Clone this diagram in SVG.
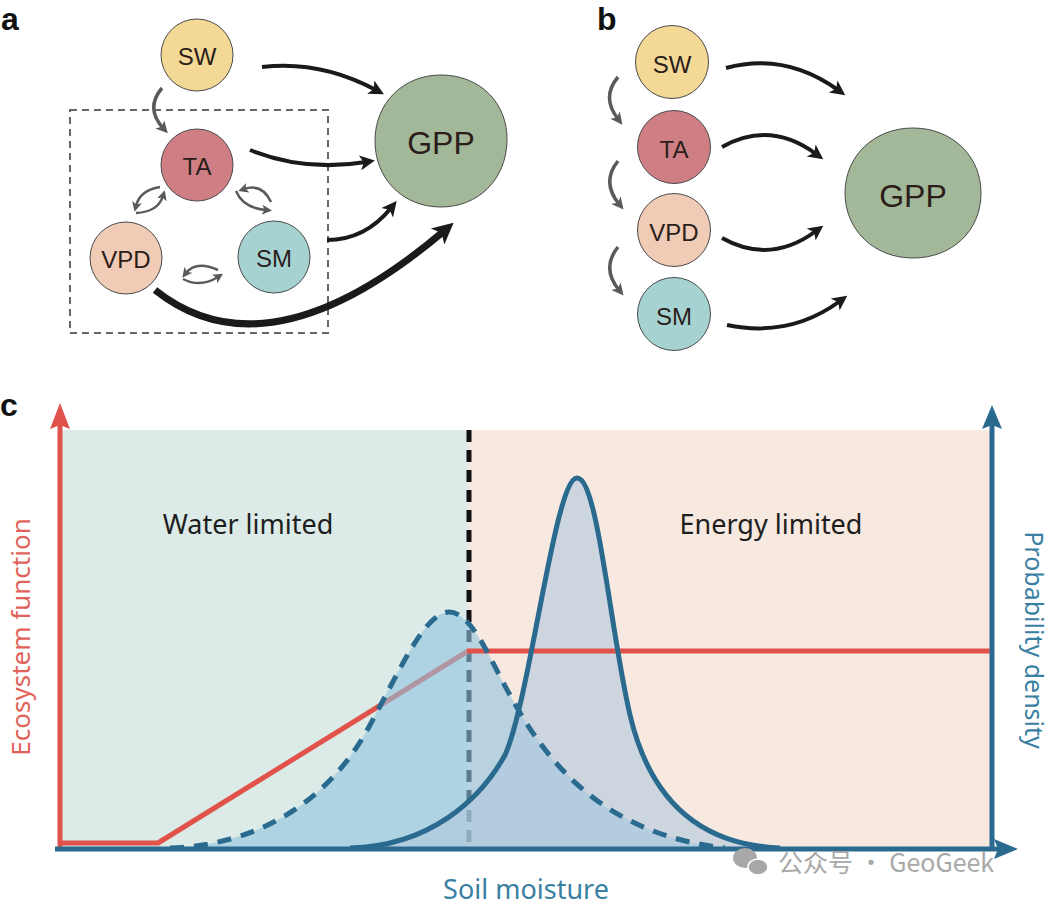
<svg xmlns="http://www.w3.org/2000/svg" width="1054" height="907" viewBox="0 0 1054 907">
<style>
.node{stroke:#4a4a4a;stroke-width:1}
.lbl{font-family:"Liberation Sans",Arial,sans-serif;font-size:24px;fill:#2b1d1a;text-anchor:middle;dominant-baseline:central}
.gpp{font-size:32px}
.panel{font-family:"Liberation Sans",Arial,sans-serif;font-weight:bold;font-size:32px;fill:#111}
.blk{fill:none;stroke:#1a1a1a;stroke-width:4;marker-end:url(#ab)}
.gry{fill:none;stroke:#5a5a5a;stroke-width:3.5;marker-end:url(#ag)}
.sm{fill:none;stroke:#5a5a5a;stroke-width:2.5;marker-end:url(#as)}
.ctext{font-family:"Noto Sans","Open Sans",sans-serif;font-size:27px;fill:#1e1e1e;text-anchor:middle}
</style>
<defs>
<marker id="ab" viewBox="0 0 10 10" refX="4" refY="5" markerWidth="17" markerHeight="15" markerUnits="userSpaceOnUse" orient="auto"><path d="M0,0 L10,5 L0,10 L2.5,5 z" fill="#1a1a1a"/></marker>
<marker id="abig" viewBox="0 0 10 10" refX="4" refY="5" markerWidth="24" markerHeight="21" markerUnits="userSpaceOnUse" orient="auto"><path d="M0,0 L10,5 L0,10 L2.5,5 z" fill="#1a1a1a"/></marker>
<marker id="ag" viewBox="0 0 10 10" refX="4" refY="5" markerWidth="13" markerHeight="12" markerUnits="userSpaceOnUse" orient="auto"><path d="M0,0 L10,5 L0,10 L2.5,5 z" fill="#5a5a5a"/></marker>
<marker id="as" viewBox="0 0 10 10" refX="4" refY="5" markerWidth="10" markerHeight="10" markerUnits="userSpaceOnUse" orient="auto"><path d="M0,0 L10,5 L0,10 L2.5,5 z" fill="#5a5a5a"/></marker>
</defs>
<rect width="1054" height="907" fill="#ffffff"/>

<!-- Panel a -->
<text class="panel" x="1" y="30">a</text>
<rect id="a-box" x="70" y="110" width="258" height="223" fill="none" stroke="#666" stroke-width="2" stroke-dasharray="7 5"/>
<g id="a-SW"><circle class="node" cx="197" cy="55" r="36" fill="#f3d896"/><text class="lbl" x="197" y="56">SW</text></g>
<g id="a-TA"><circle class="node" cx="197" cy="165" r="36" fill="#cf7f84"/><text class="lbl" x="197" y="166">TA</text></g>
<g id="a-VPD"><circle class="node" cx="126" cy="258" r="36" fill="#f0cbb6"/><text class="lbl" x="126" y="259">VPD</text></g>
<g id="a-SM"><circle class="node" cx="274" cy="257" r="36" fill="#a6d3d2"/><text class="lbl" x="274" y="258">SM</text></g>
<g id="a-GPP"><path class="node" d="M441,75 C480,75 508,103 507,141 C506,180 478,207 441,207 C403,207 375,179 375,141 C375,103 403,75 441,75 Z" fill="#a3b898"/><text class="lbl gpp" x="441" y="143">GPP</text></g>
<g id="a-connectors">
<path class="blk" d="M262,67 Q320,60 376,90"/>
<path class="blk" d="M250,150 Q305,172 366,162"/>
<path class="blk" d="M327,240 Q365,240 391,208"/>
<path d="M155,290 Q268,380 444,231" fill="none" stroke="#1a1a1a" stroke-width="7" marker-end="url(#abig)"/>
<path class="gry" d="M162,88 Q145,108 163,128"/>
<path class="sm" d="M160,187 Q140,190 136,206"/>
<path class="sm" d="M136,213 Q158,212 163,196"/>
<path class="sm" d="M271,202 Q262,183 244,189"/>
<path class="sm" d="M236,191 Q243,208 266,210"/>
<path class="sm" d="M218,270 Q196,260 186,273"/>
<path class="sm" d="M183,279 Q200,288 218,277"/>
</g>

<!-- Panel b -->
<text class="panel" x="597" y="30">b</text>
<g id="b-SW"><circle class="node" cx="672" cy="62" r="36.5" fill="#f3d896"/><text class="lbl" x="672" y="64">SW</text></g>
<g id="b-TA"><circle class="node" cx="674" cy="147" r="36.5" fill="#cf7f84"/><text class="lbl" x="674" y="149">TA</text></g>
<g id="b-VPD"><circle class="node" cx="674" cy="230" r="36.5" fill="#f0cbb6"/><text class="lbl" x="674" y="232">VPD</text></g>
<g id="b-SM"><circle class="node" cx="674" cy="314" r="36.5" fill="#a6d3d2"/><text class="lbl" x="674" y="316">SM</text></g>
<g id="b-GPP"><path class="node" d="M913,128 C952,128 981,156 981,193 C981,231 952,258 913,258 C874,258 845,230 845,193 C845,156 874,128 913,128 Z" fill="#a3b898"/><text class="lbl gpp" x="913" y="196">GPP</text></g>
<g id="b-connectors">
<path class="blk" d="M726,68 Q785,52 838,90"/>
<path class="blk" d="M722,147 Q770,120 816,154"/>
<path class="blk" d="M722,238 Q770,265 816,231"/>
<path class="blk" d="M727,325 Q790,338 840,301"/>
<path class="gry" d="M618,77 Q601,97 618,119"/>
<path class="gry" d="M618,161 Q601,182 619,204"/>
<path class="gry" d="M618,247 Q601,268 619,290"/>
</g>

<!-- Panel c -->
<text class="panel" x="0" y="416">c</text>
<rect x="60" y="430" width="408" height="418" fill="#dcebe7"/>
<rect x="468" y="430" width="524" height="418" fill="#f7e8e0"/>
<line x1="469" y1="430" x2="469" y2="848" stroke="#111" stroke-width="5" stroke-dasharray="12 8"/>
<polyline points="60,843 158,843 468,651" fill="none" stroke="#e0524a" stroke-width="5" stroke-linejoin="round"/>
<path d="M170,848 C260,845 330,800 370,725 C400,670 425,612 449,612 C472,612 490,660 510,695 C550,770 610,835 725,848 Z" fill="#8fc3e0" fill-opacity="0.6"/>
<path d="M350,848 C430,846 480,800 505,755 C530,700 555,478 577,478 C598,478 610,630 630,715 C650,800 700,845 780,848 Z" fill="#b1c8dd" fill-opacity="0.6"/>
<line x1="467" y1="651" x2="992" y2="651" stroke="#e0524a" stroke-width="5"/>
<path d="M170,848 C260,845 330,800 370,725 C400,670 425,612 449,612 C472,612 490,660 510,695 C550,770 610,835 725,848" fill="none" stroke="#2b6a8f" stroke-width="5" stroke-dasharray="14 10"/>
<path d="M350,848 C430,846 480,800 505,755 C530,700 555,478 577,478 C598,478 610,630 630,715 C650,800 700,845 780,848" fill="none" stroke="#2b6a8f" stroke-width="5"/>
<line x1="60" y1="848" x2="60" y2="425" stroke="#e0524a" stroke-width="5"/>
<polygon points="60,403 50,429 60,425 70,429" fill="#e0524a"/>
<line x1="55" y1="849" x2="1000" y2="849" stroke="#2b6a8f" stroke-width="5"/>
<polygon points="1018,849 994,839 998,849 994,859" fill="#2b6a8f"/>
<line x1="992" y1="849" x2="992" y2="425" stroke="#2b6a8f" stroke-width="5"/>
<polygon points="992,405 982,429 992,425 1002,429" fill="#2b6a8f"/>
<text class="ctext" x="248" y="534">Water limited</text>
<text class="ctext" x="771" y="534">Energy limited</text>
<text class="ctext" x="0" y="0" style="fill:#e26259;font-size:26px" transform="translate(30,637) rotate(-90)">Ecosystem function</text>
<text class="ctext" x="0" y="0" style="fill:#3a80a2;font-size:25px" transform="translate(1025,640) rotate(90)">Probability density</text>
<text class="ctext" x="526" y="899" style="fill:#3a80a2">Soil moisture</text>
<g id="watermark" fill="#a8a8a8">
<ellipse cx="745" cy="858" rx="12" ry="10"/>
<ellipse cx="758" cy="867" rx="10" ry="8" stroke="#fff" stroke-width="1.5"/>
<text x="778" y="872" font-family="'Noto Sans CJK SC',sans-serif" font-size="25">公众号 · GeoGeek</text>
</g>
</svg>
